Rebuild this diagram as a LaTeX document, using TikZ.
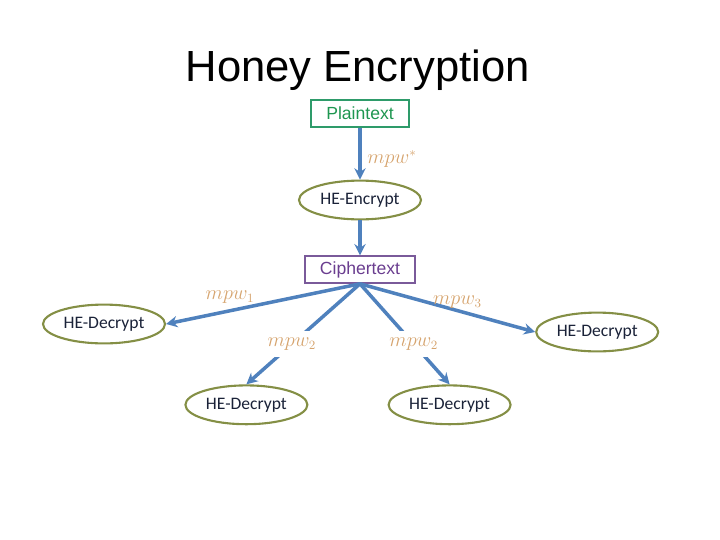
\documentclass[tikz,border=0pt]{standalone}
\usepackage{fontspec}
\setmainfont{Liberation Sans}
\newfontfamily\calibfont{Carlito}
\usepackage{xcolor}
\definecolor{ink}{HTML}{000000}
\definecolor{linkblue}{HTML}{4F81BD}
\definecolor{olive}{HTML}{848F45}
\definecolor{heink}{HTML}{1A2238}
\definecolor{plaingreen}{HTML}{2E9B6A}
\definecolor{plaintext}{HTML}{1E9650}
\definecolor{ciphpurple}{HTML}{7A5A9A}
\definecolor{ciphtext}{HTML}{6A3D8F}
\definecolor{keytan}{HTML}{D6A46E}
\usepackage{tikz}
\usetikzlibrary{positioning,shapes.geometric,arrows.meta}

\begin{document}
\begin{tikzpicture}[
  title/.style={font=\fontsize{31}{36}\selectfont, text=ink, inner sep=0pt},
  plainbox/.style={draw=plaingreen, line width=1pt, text=plaintext,
                   font=\fontsize{12.5}{15}\selectfont,
                   minimum width=2.45cm, minimum height=0.675cm, inner sep=2pt},
  ciphbox/.style={draw=ciphpurple, line width=1pt, text=ciphtext,
                  font=\fontsize{12.5}{15}\selectfont,
                  minimum width=2.75cm, minimum height=0.675cm, inner sep=2pt},
  heop/.style={ellipse, draw=olive, line width=1.5pt, text=heink,
               font=\calibfont\fontsize{12.5}{15}\selectfont,
               minimum width=3.05cm, minimum height=0.97cm, inner sep=0pt},
  link/.style={-{Stealth[length=8pt,width=8pt]}, linkblue, line width=2.5pt},
  keylbl/.style={text=keytan, font=\fontsize{13.5}{16}\selectfont, inner sep=1pt}
]
  \useasboundingbox (0,0) rectangle (18,-13.5);

  \node[title] (head) at (8.94,-1.75) {Honey Encryption};

  \node[plainbox] (plain) at (9.0,-2.84) {Plaintext};
  \node[heop] (enc) at (9.0,-5.0) {HE-Encrypt};
  \node[ciphbox] (ciph) at (9.0,-6.74) {Ciphertext};

  \node[heop] (decl)  at ( 2.60,-8.10) {HE-Decrypt};
  \node[heop] (decr)  at (14.93,-8.30) {HE-Decrypt};
  \node[heop] (decll) at ( 6.16,-10.12) {HE-Decrypt};
  \node[heop] (declr) at (11.24,-10.12) {HE-Decrypt};

  \draw[link] (plain) -- node[keylbl, pos=0.6, right=3pt] {$mpw^{*}$} (enc);
  \draw[link] (enc) -- (ciph);
  \draw[link] (ciph.south) -- node[keylbl, pos=0.67, above=3pt] {$mpw_1$} (decl.east);
  \draw[link] (ciph.south) -- node[keylbl, pos=0.556, above=-1pt] {$mpw_3$} (decr.west);
  \draw[link] (ciph.south) -- node[keylbl, fill=white, pos=0.6, inner sep=5pt] {$mpw_2$} (decll.north);
  \draw[link] (ciph.south) -- node[keylbl, fill=white, pos=0.6, inner sep=5pt] {$mpw_2$} (declr.north);
\end{tikzpicture}
\end{document}
